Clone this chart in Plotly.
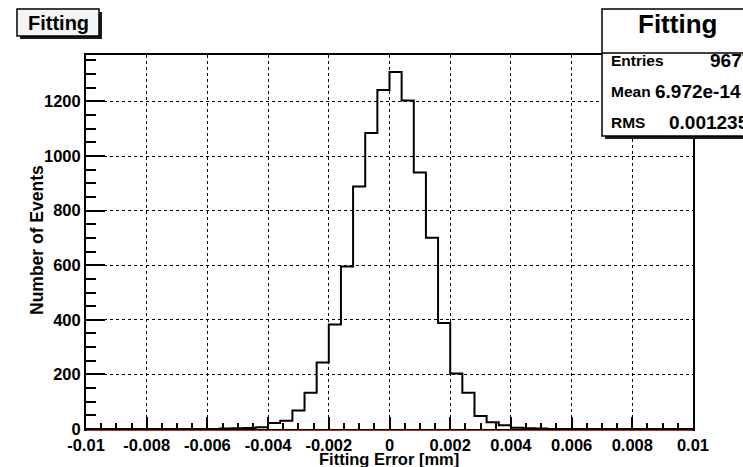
import plotly.graph_objects as go

# Histogram of fitting errors: 50 bins over [-0.01, 0.01] mm
bin_low = -0.01
bin_width = 0.0004
counts = [
    0, 0, 0, 0, 0, 0, 0, 0, 0, 0,
    0, 2, 3, 4, 6, 22, 30, 68, 133, 244,
    383, 595, 888, 1084, 1242, 1308, 1203, 940, 701, 388,
    203, 133, 48, 25, 14, 5, 3, 2, 0, 0,
    0, 0, 0, 0, 0, 0, 0, 0, 0, 0,
]

x_tick_vals = [-0.01, -0.008, -0.006, -0.004, -0.002, 0, 0.002, 0.004, 0.006, 0.008, 0.01]
x_tick_text = ["-0.01", "-0.008", "-0.006", "-0.004", "-0.002", "0",
               "0.002", "0.004", "0.006", "0.008", "0.01"]
y_tick_vals = [0, 200, 400, 600, 800, 1000, 1200]
y_tick_text = ["0", "200", "400", "600", "800", "1000", "1200"]

hist_title = "Fitting"
x_title = "Fitting Error [mm]"
y_title = "Number of Events"
stat_labels = ["Entries", "Mean", "RMS"]
stat_values = ["9677", "6.972e-14", "0.001235"]

# ---- canvas geometry (pixels) ----
W, H = 743, 467
L, R, T, B = 86, 693, 55, 429


def px(x):
    return (x - L) / (R - L)


def py(y):
    return (B - y) / (B - T)


FONT = "Liberation Sans, Arial, Helvetica, sans-serif"

edges = [bin_low + i * bin_width for i in range(len(counts) + 1)]
step_y = counts + [counts[-1]]

fig = go.Figure()
fig.add_trace(go.Scatter(
    x=edges, y=step_y, mode="lines", line_shape="hv",
    line=dict(color="black", width=2), hoverinfo="skip", showlegend=False,
))

axis_common = dict(
    showline=True, linecolor="black", linewidth=2, mirror=True,
    ticks="inside", tickcolor="black", tickwidth=1.5,
    showgrid=True, gridcolor="black", gridwidth=1, griddash="dot",
    zeroline=False,
    tickfont=dict(family=FONT, size=16.5, color="black", weight="bold"),
)

fig.update_xaxes(
    range=[-0.01, 0.01], tickvals=x_tick_vals, ticktext=x_tick_text,
    ticklen=12,
    minor=dict(dtick=0.0005, ticklen=6, ticks="inside", tickcolor="black",
               tickwidth=1.5, showgrid=False),
    **axis_common,
)
fig.update_yaxes(
    range=[0, 1370], tickvals=y_tick_vals, ticktext=y_tick_text,
    ticklen=19,
    minor=dict(dtick=50, ticklen=10, ticks="inside", tickcolor="black",
               tickwidth=1.5, showgrid=False),
    **axis_common,
)

shapes = []
# thin red line just under the x axis
shapes.append(dict(type="line", xref="paper", yref="paper",
                   x0=0, x1=1, y0=py(430.5), y1=py(430.5),
                   line=dict(color="#b03030", width=1)))

# title box with drop shadow
shapes.append(dict(type="rect", xref="paper", yref="paper",
                   x0=px(20), x1=px(102), y0=py(12), y1=py(39),
                   fillcolor="#1a1a1a", line=dict(width=0)))
shapes.append(dict(type="rect", xref="paper", yref="paper",
                   x0=px(17), x1=px(99), y0=py(9), y1=py(36),
                   fillcolor="#f4f4f4", line=dict(color="black", width=1.5)))

# statistics box with drop shadow
sb_l, sb_r, sb_t, sb_b, sb_sep = 602, 775, 9, 136, 53
shapes.append(dict(type="rect", xref="paper", yref="paper",
                   x0=px(sb_l + 3), x1=px(sb_r + 3), y0=py(sb_t + 3), y1=py(sb_b + 3),
                   fillcolor="#1a1a1a", line=dict(width=0)))
shapes.append(dict(type="rect", xref="paper", yref="paper",
                   x0=px(sb_l), x1=px(sb_r), y0=py(sb_t), y1=py(sb_b),
                   fillcolor="white", line=dict(color="black", width=1.5)))
shapes.append(dict(type="line", xref="paper", yref="paper",
                   x0=px(sb_l), x1=px(sb_r), y0=py(sb_sep), y1=py(sb_sep),
                   line=dict(color="black", width=1.5)))

annotations = []
annotations.append(dict(
    text=hist_title, xref="paper", yref="paper", x=px(58), y=py(23),
    xanchor="center", yanchor="middle", showarrow=False,
    font=dict(family=FONT, size=20, color="black", weight="bold"),
))
annotations.append(dict(
    text=hist_title, xref="paper", yref="paper", x=px(677), y=py(24),
    xanchor="center", yanchor="middle", showarrow=False,
    font=dict(family=FONT, size=26, color="black", weight="bold"),
))
row_y = [61, 91, 122]
value_x = [708, 653, 667]
for lab, val, yy, vx in zip(stat_labels, stat_values, row_y, value_x):
    annotations.append(dict(
        text=lab, xref="paper", yref="paper", x=px(609), y=py(yy),
        xanchor="left", yanchor="middle", showarrow=False,
        font=dict(family=FONT, size=15.5, color="black", weight="bold"),
    ))
    annotations.append(dict(
        text=val, xref="paper", yref="paper", x=px(vx), y=py(yy),
        xanchor="left", yanchor="middle", showarrow=False,
        font=dict(family=FONT, size=19, color="black", weight="bold"),
    ))

annotations.append(dict(
    text=x_title, xref="paper", yref="paper", x=px(389), y=py(459),
    xanchor="center", yanchor="middle", showarrow=False,
    font=dict(family=FONT, size=16.5, color="black", weight="bold"),
))
annotations.append(dict(
    text=y_title, xref="paper", yref="paper", x=px(37), y=py(240),
    xanchor="center", yanchor="middle", showarrow=False, textangle=-90,
    font=dict(family=FONT, size=17.5, color="black", weight="bold"),
))

fig.update_layout(
    width=W, height=H,
    margin=dict(l=L, r=W - R, t=T, b=H - B, pad=0),
    paper_bgcolor="white", plot_bgcolor="white",
    shapes=shapes, annotations=annotations,
    showlegend=False,
)

fig.write_html("out.html")
